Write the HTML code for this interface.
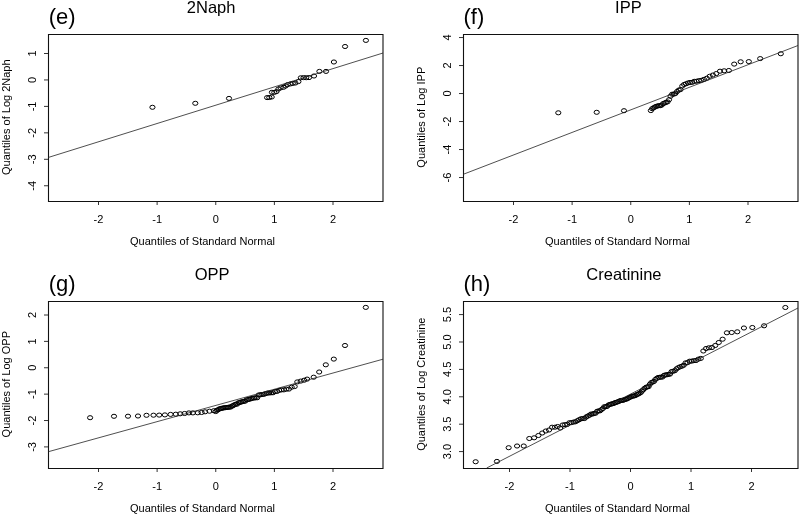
<!DOCTYPE html><html><head><meta charset="utf-8"><style>html,body{margin:0;padding:0;background:#fff;overflow:hidden}svg{display:block;filter:grayscale(1)}</style></head><body>
<svg width="800" height="514" viewBox="0 0 800 514" font-family="'Liberation Sans', sans-serif">
<rect width="800" height="514" fill="#fff"/>
<path d="M48.5 34.5H383.0V201.5H48.5Z" fill="none" stroke="#111" stroke-width="1.1"/>
<line x1="98.50" y1="202" x2="98.50" y2="205" stroke="#333" stroke-width="1"/>
<text x="98.50" y="222.8" font-size="11" text-anchor="middle" fill="#000">-2</text>
<line x1="157.12" y1="202" x2="157.12" y2="205" stroke="#333" stroke-width="1"/>
<text x="157.12" y="222.8" font-size="11" text-anchor="middle" fill="#000">-1</text>
<line x1="215.75" y1="202" x2="215.75" y2="205" stroke="#333" stroke-width="1"/>
<text x="215.75" y="222.8" font-size="11" text-anchor="middle" fill="#000">0</text>
<line x1="274.38" y1="202" x2="274.38" y2="205" stroke="#333" stroke-width="1"/>
<text x="274.38" y="222.8" font-size="11" text-anchor="middle" fill="#000">1</text>
<line x1="333.00" y1="202" x2="333.00" y2="205" stroke="#333" stroke-width="1"/>
<text x="333.00" y="222.8" font-size="11" text-anchor="middle" fill="#000">2</text>
<line x1="48" y1="53.50" x2="44" y2="53.50" stroke="#333" stroke-width="1"/>
<text transform="translate(36,53.50) rotate(-90)" font-size="11" text-anchor="middle" fill="#000">1</text>
<line x1="48" y1="79.95" x2="44" y2="79.95" stroke="#333" stroke-width="1"/>
<text transform="translate(36,79.95) rotate(-90)" font-size="11" text-anchor="middle" fill="#000">0</text>
<line x1="48" y1="106.40" x2="44" y2="106.40" stroke="#333" stroke-width="1"/>
<text transform="translate(36,106.40) rotate(-90)" font-size="11" text-anchor="middle" fill="#000">-1</text>
<line x1="48" y1="132.85" x2="44" y2="132.85" stroke="#333" stroke-width="1"/>
<text transform="translate(36,132.85) rotate(-90)" font-size="11" text-anchor="middle" fill="#000">-2</text>
<line x1="48" y1="159.30" x2="44" y2="159.30" stroke="#333" stroke-width="1"/>
<text transform="translate(36,159.30) rotate(-90)" font-size="11" text-anchor="middle" fill="#000">-3</text>
<line x1="48" y1="185.75" x2="44" y2="185.75" stroke="#333" stroke-width="1"/>
<text transform="translate(36,185.75) rotate(-90)" font-size="11" text-anchor="middle" fill="#000">-4</text>
<text x="202.5" y="245.2" font-size="11" text-anchor="middle" fill="#000">Quantiles of Standard Normal</text>
<text transform="translate(9.8,117.2) rotate(-90)" font-size="11" text-anchor="middle" fill="#000">Quantiles of Log 2Naph</text>
<path d="M463.5 34.5H798.0V201.5H463.5Z" fill="none" stroke="#111" stroke-width="1.1"/>
<line x1="513.50" y1="202" x2="513.50" y2="205" stroke="#333" stroke-width="1"/>
<text x="513.50" y="222.8" font-size="11" text-anchor="middle" fill="#000">-2</text>
<line x1="572.12" y1="202" x2="572.12" y2="205" stroke="#333" stroke-width="1"/>
<text x="572.12" y="222.8" font-size="11" text-anchor="middle" fill="#000">-1</text>
<line x1="630.75" y1="202" x2="630.75" y2="205" stroke="#333" stroke-width="1"/>
<text x="630.75" y="222.8" font-size="11" text-anchor="middle" fill="#000">0</text>
<line x1="689.38" y1="202" x2="689.38" y2="205" stroke="#333" stroke-width="1"/>
<text x="689.38" y="222.8" font-size="11" text-anchor="middle" fill="#000">1</text>
<line x1="748.00" y1="202" x2="748.00" y2="205" stroke="#333" stroke-width="1"/>
<text x="748.00" y="222.8" font-size="11" text-anchor="middle" fill="#000">2</text>
<line x1="463" y1="37.54" x2="459" y2="37.54" stroke="#333" stroke-width="1"/>
<text transform="translate(451,37.54) rotate(-90)" font-size="11" text-anchor="middle" fill="#000">4</text>
<line x1="463" y1="65.54" x2="459" y2="65.54" stroke="#333" stroke-width="1"/>
<text transform="translate(451,65.54) rotate(-90)" font-size="11" text-anchor="middle" fill="#000">2</text>
<line x1="463" y1="93.54" x2="459" y2="93.54" stroke="#333" stroke-width="1"/>
<text transform="translate(451,93.54) rotate(-90)" font-size="11" text-anchor="middle" fill="#000">0</text>
<line x1="463" y1="121.54" x2="459" y2="121.54" stroke="#333" stroke-width="1"/>
<text transform="translate(451,121.54) rotate(-90)" font-size="11" text-anchor="middle" fill="#000">-2</text>
<line x1="463" y1="149.54" x2="459" y2="149.54" stroke="#333" stroke-width="1"/>
<text transform="translate(451,149.54) rotate(-90)" font-size="11" text-anchor="middle" fill="#000">-4</text>
<line x1="463" y1="177.54" x2="459" y2="177.54" stroke="#333" stroke-width="1"/>
<text transform="translate(451,177.54) rotate(-90)" font-size="11" text-anchor="middle" fill="#000">-6</text>
<text x="617.5" y="245.2" font-size="11" text-anchor="middle" fill="#000">Quantiles of Standard Normal</text>
<text transform="translate(424.8,117.2) rotate(-90)" font-size="11" text-anchor="middle" fill="#000">Quantiles of Log IPP</text>
<path d="M48.5 301.5H383.0V468.5H48.5Z" fill="none" stroke="#111" stroke-width="1.1"/>
<line x1="98.50" y1="469" x2="98.50" y2="472" stroke="#333" stroke-width="1"/>
<text x="98.50" y="489.8" font-size="11" text-anchor="middle" fill="#000">-2</text>
<line x1="157.12" y1="469" x2="157.12" y2="472" stroke="#333" stroke-width="1"/>
<text x="157.12" y="489.8" font-size="11" text-anchor="middle" fill="#000">-1</text>
<line x1="215.75" y1="469" x2="215.75" y2="472" stroke="#333" stroke-width="1"/>
<text x="215.75" y="489.8" font-size="11" text-anchor="middle" fill="#000">0</text>
<line x1="274.38" y1="469" x2="274.38" y2="472" stroke="#333" stroke-width="1"/>
<text x="274.38" y="489.8" font-size="11" text-anchor="middle" fill="#000">1</text>
<line x1="333.00" y1="469" x2="333.00" y2="472" stroke="#333" stroke-width="1"/>
<text x="333.00" y="489.8" font-size="11" text-anchor="middle" fill="#000">2</text>
<line x1="48" y1="315.00" x2="44" y2="315.00" stroke="#333" stroke-width="1"/>
<text transform="translate(36,315.00) rotate(-90)" font-size="11" text-anchor="middle" fill="#000">2</text>
<line x1="48" y1="341.38" x2="44" y2="341.38" stroke="#333" stroke-width="1"/>
<text transform="translate(36,341.38) rotate(-90)" font-size="11" text-anchor="middle" fill="#000">1</text>
<line x1="48" y1="367.76" x2="44" y2="367.76" stroke="#333" stroke-width="1"/>
<text transform="translate(36,367.76) rotate(-90)" font-size="11" text-anchor="middle" fill="#000">0</text>
<line x1="48" y1="394.14" x2="44" y2="394.14" stroke="#333" stroke-width="1"/>
<text transform="translate(36,394.14) rotate(-90)" font-size="11" text-anchor="middle" fill="#000">-1</text>
<line x1="48" y1="420.52" x2="44" y2="420.52" stroke="#333" stroke-width="1"/>
<text transform="translate(36,420.52) rotate(-90)" font-size="11" text-anchor="middle" fill="#000">-2</text>
<line x1="48" y1="446.90" x2="44" y2="446.90" stroke="#333" stroke-width="1"/>
<text transform="translate(36,446.90) rotate(-90)" font-size="11" text-anchor="middle" fill="#000">-3</text>
<text x="202.5" y="512.2" font-size="11" text-anchor="middle" fill="#000">Quantiles of Standard Normal</text>
<text transform="translate(9.8,384.2) rotate(-90)" font-size="11" text-anchor="middle" fill="#000">Quantiles of Log OPP</text>
<path d="M463.5 301.5H798.0V468.5H463.5Z" fill="none" stroke="#111" stroke-width="1.1"/>
<line x1="509.50" y1="469" x2="509.50" y2="472" stroke="#333" stroke-width="1"/>
<text x="509.50" y="489.8" font-size="11" text-anchor="middle" fill="#000">-2</text>
<line x1="570.00" y1="469" x2="570.00" y2="472" stroke="#333" stroke-width="1"/>
<text x="570.00" y="489.8" font-size="11" text-anchor="middle" fill="#000">-1</text>
<line x1="630.50" y1="469" x2="630.50" y2="472" stroke="#333" stroke-width="1"/>
<text x="630.50" y="489.8" font-size="11" text-anchor="middle" fill="#000">0</text>
<line x1="691.00" y1="469" x2="691.00" y2="472" stroke="#333" stroke-width="1"/>
<text x="691.00" y="489.8" font-size="11" text-anchor="middle" fill="#000">1</text>
<line x1="751.50" y1="469" x2="751.50" y2="472" stroke="#333" stroke-width="1"/>
<text x="751.50" y="489.8" font-size="11" text-anchor="middle" fill="#000">2</text>
<line x1="463" y1="451.59" x2="459" y2="451.59" stroke="#333" stroke-width="1"/>
<text transform="translate(451,451.59) rotate(-90)" font-size="11" text-anchor="middle" fill="#000">3.0</text>
<line x1="463" y1="424.19" x2="459" y2="424.19" stroke="#333" stroke-width="1"/>
<text transform="translate(451,424.19) rotate(-90)" font-size="11" text-anchor="middle" fill="#000">3.5</text>
<line x1="463" y1="396.79" x2="459" y2="396.79" stroke="#333" stroke-width="1"/>
<text transform="translate(451,396.79) rotate(-90)" font-size="11" text-anchor="middle" fill="#000">4.0</text>
<line x1="463" y1="369.39" x2="459" y2="369.39" stroke="#333" stroke-width="1"/>
<text transform="translate(451,369.39) rotate(-90)" font-size="11" text-anchor="middle" fill="#000">4.5</text>
<line x1="463" y1="341.99" x2="459" y2="341.99" stroke="#333" stroke-width="1"/>
<text transform="translate(451,341.99) rotate(-90)" font-size="11" text-anchor="middle" fill="#000">5.0</text>
<line x1="463" y1="314.59" x2="459" y2="314.59" stroke="#333" stroke-width="1"/>
<text transform="translate(451,314.59) rotate(-90)" font-size="11" text-anchor="middle" fill="#000">5.5</text>
<text x="617.5" y="512.2" font-size="11" text-anchor="middle" fill="#000">Quantiles of Standard Normal</text>
<text transform="translate(424.8,384.2) rotate(-90)" font-size="11" text-anchor="middle" fill="#000">Quantiles of Log Creatinine</text>
<text x="186.8" y="12.8" font-size="16.5">2Naph</text>
<text x="615.1" y="12.6" font-size="16.5">IPP</text>
<text x="194.75" y="279.8" font-size="16.5">OPP</text>
<text x="586.3" y="279.6" font-size="16.5">Creatinine</text>
<text x="48.7" y="24.2" font-size="22">(e)</text>
<text x="463.5" y="24.2" font-size="22">(f)</text>
<text x="48.7" y="291.2" font-size="22">(g)</text>
<text x="463.5" y="291.2" font-size="22">(h)</text>
<path d="M149.85 107.30a2.6 2.05 0 1 0 5.2 0a2.6 2.05 0 1 0 -5.2 0M192.70 103.30a2.6 2.05 0 1 0 5.2 0a2.6 2.05 0 1 0 -5.2 0M226.40 98.40a2.6 2.05 0 1 0 5.2 0a2.6 2.05 0 1 0 -5.2 0M264.50 97.60a2.6 2.05 0 1 0 5.2 0a2.6 2.05 0 1 0 -5.2 0M266.70 97.50a2.6 2.05 0 1 0 5.2 0a2.6 2.05 0 1 0 -5.2 0M269.10 97.00a2.6 2.05 0 1 0 5.2 0a2.6 2.05 0 1 0 -5.2 0M269.30 92.30a2.6 2.05 0 1 0 5.2 0a2.6 2.05 0 1 0 -5.2 0M271.70 92.40a2.6 2.05 0 1 0 5.2 0a2.6 2.05 0 1 0 -5.2 0M273.90 91.60a2.6 2.05 0 1 0 5.2 0a2.6 2.05 0 1 0 -5.2 0M275.80 89.00a2.6 2.05 0 1 0 5.2 0a2.6 2.05 0 1 0 -5.2 0M278.00 87.90a2.6 2.05 0 1 0 5.2 0a2.6 2.05 0 1 0 -5.2 0M280.90 87.30a2.6 2.05 0 1 0 5.2 0a2.6 2.05 0 1 0 -5.2 0M283.10 86.00a2.6 2.05 0 1 0 5.2 0a2.6 2.05 0 1 0 -5.2 0M285.10 84.60a2.6 2.05 0 1 0 5.2 0a2.6 2.05 0 1 0 -5.2 0M287.90 83.90a2.6 2.05 0 1 0 5.2 0a2.6 2.05 0 1 0 -5.2 0M290.20 83.40a2.6 2.05 0 1 0 5.2 0a2.6 2.05 0 1 0 -5.2 0M292.80 83.00a2.6 2.05 0 1 0 5.2 0a2.6 2.05 0 1 0 -5.2 0M295.80 81.60a2.6 2.05 0 1 0 5.2 0a2.6 2.05 0 1 0 -5.2 0M298.20 77.80a2.6 2.05 0 1 0 5.2 0a2.6 2.05 0 1 0 -5.2 0M301.00 77.60a2.6 2.05 0 1 0 5.2 0a2.6 2.05 0 1 0 -5.2 0M303.60 77.70a2.6 2.05 0 1 0 5.2 0a2.6 2.05 0 1 0 -5.2 0M306.40 77.60a2.6 2.05 0 1 0 5.2 0a2.6 2.05 0 1 0 -5.2 0M311.40 76.00a2.6 2.05 0 1 0 5.2 0a2.6 2.05 0 1 0 -5.2 0M316.80 71.40a2.6 2.05 0 1 0 5.2 0a2.6 2.05 0 1 0 -5.2 0M323.40 71.40a2.6 2.05 0 1 0 5.2 0a2.6 2.05 0 1 0 -5.2 0M331.30 62.00a2.6 2.05 0 1 0 5.2 0a2.6 2.05 0 1 0 -5.2 0M342.46 46.50a2.6 2.05 0 1 0 5.2 0a2.6 2.05 0 1 0 -5.2 0M363.30 40.40a2.6 2.05 0 1 0 5.2 0a2.6 2.05 0 1 0 -5.2 0" fill="none" stroke="#000" stroke-width="1.0"/>
<path d="M555.70 112.80a2.6 2.05 0 1 0 5.2 0a2.6 2.05 0 1 0 -5.2 0M594.10 112.30a2.6 2.05 0 1 0 5.2 0a2.6 2.05 0 1 0 -5.2 0M621.40 110.70a2.6 2.05 0 1 0 5.2 0a2.6 2.05 0 1 0 -5.2 0M648.25 110.58a2.6 2.05 0 1 0 5.2 0a2.6 2.05 0 1 0 -5.2 0M649.57 108.65a2.6 2.05 0 1 0 5.2 0a2.6 2.05 0 1 0 -5.2 0M650.89 107.91a2.6 2.05 0 1 0 5.2 0a2.6 2.05 0 1 0 -5.2 0M652.22 107.05a2.6 2.05 0 1 0 5.2 0a2.6 2.05 0 1 0 -5.2 0M653.57 106.35a2.6 2.05 0 1 0 5.2 0a2.6 2.05 0 1 0 -5.2 0M654.93 105.99a2.6 2.05 0 1 0 5.2 0a2.6 2.05 0 1 0 -5.2 0M656.31 105.69a2.6 2.05 0 1 0 5.2 0a2.6 2.05 0 1 0 -5.2 0M657.70 105.66a2.6 2.05 0 1 0 5.2 0a2.6 2.05 0 1 0 -5.2 0M659.11 105.10a2.6 2.05 0 1 0 5.2 0a2.6 2.05 0 1 0 -5.2 0M660.53 103.58a2.6 2.05 0 1 0 5.2 0a2.6 2.05 0 1 0 -5.2 0M661.98 103.05a2.6 2.05 0 1 0 5.2 0a2.6 2.05 0 1 0 -5.2 0M663.44 102.32a2.6 2.05 0 1 0 5.2 0a2.6 2.05 0 1 0 -5.2 0M664.93 101.87a2.6 2.05 0 1 0 5.2 0a2.6 2.05 0 1 0 -5.2 0M666.44 99.71a2.6 2.05 0 1 0 5.2 0a2.6 2.05 0 1 0 -5.2 0M667.98 96.20a2.6 2.05 0 1 0 5.2 0a2.6 2.05 0 1 0 -5.2 0M669.55 94.22a2.6 2.05 0 1 0 5.2 0a2.6 2.05 0 1 0 -5.2 0M671.15 94.16a2.6 2.05 0 1 0 5.2 0a2.6 2.05 0 1 0 -5.2 0M672.78 93.51a2.6 2.05 0 1 0 5.2 0a2.6 2.05 0 1 0 -5.2 0M674.44 91.52a2.6 2.05 0 1 0 5.2 0a2.6 2.05 0 1 0 -5.2 0M676.14 90.07a2.6 2.05 0 1 0 5.2 0a2.6 2.05 0 1 0 -5.2 0M677.89 89.58a2.6 2.05 0 1 0 5.2 0a2.6 2.05 0 1 0 -5.2 0M679.68 85.99a2.6 2.05 0 1 0 5.2 0a2.6 2.05 0 1 0 -5.2 0M681.51 84.47a2.6 2.05 0 1 0 5.2 0a2.6 2.05 0 1 0 -5.2 0M683.41 83.79a2.6 2.05 0 1 0 5.2 0a2.6 2.05 0 1 0 -5.2 0M685.36 82.96a2.6 2.05 0 1 0 5.2 0a2.6 2.05 0 1 0 -5.2 0M687.38 82.45a2.6 2.05 0 1 0 5.2 0a2.6 2.05 0 1 0 -5.2 0M689.47 82.35a2.6 2.05 0 1 0 5.2 0a2.6 2.05 0 1 0 -5.2 0M691.64 81.32a2.6 2.05 0 1 0 5.2 0a2.6 2.05 0 1 0 -5.2 0M693.90 81.25a2.6 2.05 0 1 0 5.2 0a2.6 2.05 0 1 0 -5.2 0M696.27 80.64a2.6 2.05 0 1 0 5.2 0a2.6 2.05 0 1 0 -5.2 0M698.75 80.30a2.6 2.05 0 1 0 5.2 0a2.6 2.05 0 1 0 -5.2 0M701.36 79.40a2.6 2.05 0 1 0 5.2 0a2.6 2.05 0 1 0 -5.2 0M704.13 78.22a2.6 2.05 0 1 0 5.2 0a2.6 2.05 0 1 0 -5.2 0M707.08 76.27a2.6 2.05 0 1 0 5.2 0a2.6 2.05 0 1 0 -5.2 0M710.24 75.05a2.6 2.05 0 1 0 5.2 0a2.6 2.05 0 1 0 -5.2 0M713.66 73.56a2.6 2.05 0 1 0 5.2 0a2.6 2.05 0 1 0 -5.2 0M717.41 71.20a2.6 2.05 0 1 0 5.2 0a2.6 2.05 0 1 0 -5.2 0M721.55 70.80a2.6 2.05 0 1 0 5.2 0a2.6 2.05 0 1 0 -5.2 0M726.23 70.50a2.6 2.05 0 1 0 5.2 0a2.6 2.05 0 1 0 -5.2 0M731.62 64.10a2.6 2.05 0 1 0 5.2 0a2.6 2.05 0 1 0 -5.2 0M738.07 61.80a2.6 2.05 0 1 0 5.2 0a2.6 2.05 0 1 0 -5.2 0M746.21 61.60a2.6 2.05 0 1 0 5.2 0a2.6 2.05 0 1 0 -5.2 0M757.59 58.60a2.6 2.05 0 1 0 5.2 0a2.6 2.05 0 1 0 -5.2 0M778.20 53.75a2.6 2.05 0 1 0 5.2 0a2.6 2.05 0 1 0 -5.2 0" fill="none" stroke="#000" stroke-width="1.0"/>
<path d="M87.50 417.70a2.6 2.05 0 1 0 5.2 0a2.6 2.05 0 1 0 -5.2 0M111.40 416.30a2.6 2.05 0 1 0 5.2 0a2.6 2.05 0 1 0 -5.2 0M125.40 416.20a2.6 2.05 0 1 0 5.2 0a2.6 2.05 0 1 0 -5.2 0M135.40 416.00a2.6 2.05 0 1 0 5.2 0a2.6 2.05 0 1 0 -5.2 0M143.90 415.30a2.6 2.05 0 1 0 5.2 0a2.6 2.05 0 1 0 -5.2 0M150.90 415.20a2.6 2.05 0 1 0 5.2 0a2.6 2.05 0 1 0 -5.2 0M156.60 415.10a2.6 2.05 0 1 0 5.2 0a2.6 2.05 0 1 0 -5.2 0M162.30 414.90a2.6 2.05 0 1 0 5.2 0a2.6 2.05 0 1 0 -5.2 0M168.00 414.40a2.6 2.05 0 1 0 5.2 0a2.6 2.05 0 1 0 -5.2 0M173.20 414.20a2.6 2.05 0 1 0 5.2 0a2.6 2.05 0 1 0 -5.2 0M177.60 413.80a2.6 2.05 0 1 0 5.2 0a2.6 2.05 0 1 0 -5.2 0M182.00 413.50a2.6 2.05 0 1 0 5.2 0a2.6 2.05 0 1 0 -5.2 0M186.30 412.90a2.6 2.05 0 1 0 5.2 0a2.6 2.05 0 1 0 -5.2 0M190.30 412.90a2.6 2.05 0 1 0 5.2 0a2.6 2.05 0 1 0 -5.2 0M195.10 412.80a2.6 2.05 0 1 0 5.2 0a2.6 2.05 0 1 0 -5.2 0M199.00 412.50a2.6 2.05 0 1 0 5.2 0a2.6 2.05 0 1 0 -5.2 0M202.50 411.80a2.6 2.05 0 1 0 5.2 0a2.6 2.05 0 1 0 -5.2 0M206.90 411.20a2.6 2.05 0 1 0 5.2 0a2.6 2.05 0 1 0 -5.2 0M211.30 410.70a2.6 2.05 0 1 0 5.2 0a2.6 2.05 0 1 0 -5.2 0M213.15 411.57a2.6 2.05 0 1 0 5.2 0a2.6 2.05 0 1 0 -5.2 0M214.38 410.23a2.6 2.05 0 1 0 5.2 0a2.6 2.05 0 1 0 -5.2 0M215.62 409.70a2.6 2.05 0 1 0 5.2 0a2.6 2.05 0 1 0 -5.2 0M216.85 408.86a2.6 2.05 0 1 0 5.2 0a2.6 2.05 0 1 0 -5.2 0M218.08 408.49a2.6 2.05 0 1 0 5.2 0a2.6 2.05 0 1 0 -5.2 0M219.32 408.39a2.6 2.05 0 1 0 5.2 0a2.6 2.05 0 1 0 -5.2 0M220.56 407.87a2.6 2.05 0 1 0 5.2 0a2.6 2.05 0 1 0 -5.2 0M221.81 407.78a2.6 2.05 0 1 0 5.2 0a2.6 2.05 0 1 0 -5.2 0M223.06 407.65a2.6 2.05 0 1 0 5.2 0a2.6 2.05 0 1 0 -5.2 0M224.31 407.47a2.6 2.05 0 1 0 5.2 0a2.6 2.05 0 1 0 -5.2 0M225.57 407.30a2.6 2.05 0 1 0 5.2 0a2.6 2.05 0 1 0 -5.2 0M226.83 407.08a2.6 2.05 0 1 0 5.2 0a2.6 2.05 0 1 0 -5.2 0M228.10 407.07a2.6 2.05 0 1 0 5.2 0a2.6 2.05 0 1 0 -5.2 0M229.37 406.06a2.6 2.05 0 1 0 5.2 0a2.6 2.05 0 1 0 -5.2 0M230.66 405.53a2.6 2.05 0 1 0 5.2 0a2.6 2.05 0 1 0 -5.2 0M231.95 404.73a2.6 2.05 0 1 0 5.2 0a2.6 2.05 0 1 0 -5.2 0M233.25 404.15a2.6 2.05 0 1 0 5.2 0a2.6 2.05 0 1 0 -5.2 0M234.57 404.09a2.6 2.05 0 1 0 5.2 0a2.6 2.05 0 1 0 -5.2 0M235.89 402.71a2.6 2.05 0 1 0 5.2 0a2.6 2.05 0 1 0 -5.2 0M237.22 402.56a2.6 2.05 0 1 0 5.2 0a2.6 2.05 0 1 0 -5.2 0M238.57 401.90a2.6 2.05 0 1 0 5.2 0a2.6 2.05 0 1 0 -5.2 0M239.93 401.67a2.6 2.05 0 1 0 5.2 0a2.6 2.05 0 1 0 -5.2 0M241.31 401.35a2.6 2.05 0 1 0 5.2 0a2.6 2.05 0 1 0 -5.2 0M242.70 401.08a2.6 2.05 0 1 0 5.2 0a2.6 2.05 0 1 0 -5.2 0M244.11 399.76a2.6 2.05 0 1 0 5.2 0a2.6 2.05 0 1 0 -5.2 0M245.53 399.53a2.6 2.05 0 1 0 5.2 0a2.6 2.05 0 1 0 -5.2 0M246.98 399.24a2.6 2.05 0 1 0 5.2 0a2.6 2.05 0 1 0 -5.2 0M248.44 398.68a2.6 2.05 0 1 0 5.2 0a2.6 2.05 0 1 0 -5.2 0M249.93 398.25a2.6 2.05 0 1 0 5.2 0a2.6 2.05 0 1 0 -5.2 0M251.44 398.02a2.6 2.05 0 1 0 5.2 0a2.6 2.05 0 1 0 -5.2 0M252.98 397.78a2.6 2.05 0 1 0 5.2 0a2.6 2.05 0 1 0 -5.2 0M254.55 397.78a2.6 2.05 0 1 0 5.2 0a2.6 2.05 0 1 0 -5.2 0M256.15 394.96a2.6 2.05 0 1 0 5.2 0a2.6 2.05 0 1 0 -5.2 0M257.78 394.83a2.6 2.05 0 1 0 5.2 0a2.6 2.05 0 1 0 -5.2 0M259.44 394.41a2.6 2.05 0 1 0 5.2 0a2.6 2.05 0 1 0 -5.2 0M261.14 394.39a2.6 2.05 0 1 0 5.2 0a2.6 2.05 0 1 0 -5.2 0M262.89 393.64a2.6 2.05 0 1 0 5.2 0a2.6 2.05 0 1 0 -5.2 0M264.68 393.13a2.6 2.05 0 1 0 5.2 0a2.6 2.05 0 1 0 -5.2 0M266.51 392.99a2.6 2.05 0 1 0 5.2 0a2.6 2.05 0 1 0 -5.2 0M268.41 392.82a2.6 2.05 0 1 0 5.2 0a2.6 2.05 0 1 0 -5.2 0M270.36 392.79a2.6 2.05 0 1 0 5.2 0a2.6 2.05 0 1 0 -5.2 0M272.38 391.52a2.6 2.05 0 1 0 5.2 0a2.6 2.05 0 1 0 -5.2 0M274.47 391.41a2.6 2.05 0 1 0 5.2 0a2.6 2.05 0 1 0 -5.2 0M276.64 390.32a2.6 2.05 0 1 0 5.2 0a2.6 2.05 0 1 0 -5.2 0M278.90 389.89a2.6 2.05 0 1 0 5.2 0a2.6 2.05 0 1 0 -5.2 0M281.27 389.86a2.6 2.05 0 1 0 5.2 0a2.6 2.05 0 1 0 -5.2 0M283.75 389.17a2.6 2.05 0 1 0 5.2 0a2.6 2.05 0 1 0 -5.2 0M286.36 389.08a2.6 2.05 0 1 0 5.2 0a2.6 2.05 0 1 0 -5.2 0M289.13 387.19a2.6 2.05 0 1 0 5.2 0a2.6 2.05 0 1 0 -5.2 0M292.08 386.55a2.6 2.05 0 1 0 5.2 0a2.6 2.05 0 1 0 -5.2 0M294.70 381.90a2.6 2.05 0 1 0 5.2 0a2.6 2.05 0 1 0 -5.2 0M298.10 381.10a2.6 2.05 0 1 0 5.2 0a2.6 2.05 0 1 0 -5.2 0M301.50 380.20a2.6 2.05 0 1 0 5.2 0a2.6 2.05 0 1 0 -5.2 0M304.50 379.10a2.6 2.05 0 1 0 5.2 0a2.6 2.05 0 1 0 -5.2 0M311.10 377.20a2.6 2.05 0 1 0 5.2 0a2.6 2.05 0 1 0 -5.2 0M316.60 372.00a2.6 2.05 0 1 0 5.2 0a2.6 2.05 0 1 0 -5.2 0M323.20 364.80a2.6 2.05 0 1 0 5.2 0a2.6 2.05 0 1 0 -5.2 0M331.20 359.10a2.6 2.05 0 1 0 5.2 0a2.6 2.05 0 1 0 -5.2 0M342.40 345.50a2.6 2.05 0 1 0 5.2 0a2.6 2.05 0 1 0 -5.2 0M363.20 307.40a2.6 2.05 0 1 0 5.2 0a2.6 2.05 0 1 0 -5.2 0" fill="none" stroke="#000" stroke-width="1.0"/>
<path d="M473.05 461.75a2.6 2.05 0 1 0 5.2 0a2.6 2.05 0 1 0 -5.2 0M494.32 461.40a2.6 2.05 0 1 0 5.2 0a2.6 2.05 0 1 0 -5.2 0M506.06 447.70a2.6 2.05 0 1 0 5.2 0a2.6 2.05 0 1 0 -5.2 0M514.46 446.00a2.6 2.05 0 1 0 5.2 0a2.6 2.05 0 1 0 -5.2 0M521.12 446.00a2.6 2.05 0 1 0 5.2 0a2.6 2.05 0 1 0 -5.2 0M526.69 438.50a2.6 2.05 0 1 0 5.2 0a2.6 2.05 0 1 0 -5.2 0M531.51 437.80a2.6 2.05 0 1 0 5.2 0a2.6 2.05 0 1 0 -5.2 0M535.79 435.50a2.6 2.05 0 1 0 5.2 0a2.6 2.05 0 1 0 -5.2 0M539.65 433.00a2.6 2.05 0 1 0 5.2 0a2.6 2.05 0 1 0 -5.2 0M543.18 431.00a2.6 2.05 0 1 0 5.2 0a2.6 2.05 0 1 0 -5.2 0M546.45 430.00a2.6 2.05 0 1 0 5.2 0a2.6 2.05 0 1 0 -5.2 0M549.49 427.20a2.6 2.05 0 1 0 5.2 0a2.6 2.05 0 1 0 -5.2 0M552.35 427.20a2.6 2.05 0 1 0 5.2 0a2.6 2.05 0 1 0 -5.2 0M555.05 426.50a2.6 2.05 0 1 0 5.2 0a2.6 2.05 0 1 0 -5.2 0M700.75 351.00a2.6 2.05 0 1 0 5.2 0a2.6 2.05 0 1 0 -5.2 0M703.45 348.50a2.6 2.05 0 1 0 5.2 0a2.6 2.05 0 1 0 -5.2 0M706.31 347.80a2.6 2.05 0 1 0 5.2 0a2.6 2.05 0 1 0 -5.2 0M709.35 347.50a2.6 2.05 0 1 0 5.2 0a2.6 2.05 0 1 0 -5.2 0M712.62 345.50a2.6 2.05 0 1 0 5.2 0a2.6 2.05 0 1 0 -5.2 0M716.15 342.50a2.6 2.05 0 1 0 5.2 0a2.6 2.05 0 1 0 -5.2 0M720.01 339.20a2.6 2.05 0 1 0 5.2 0a2.6 2.05 0 1 0 -5.2 0M724.29 332.80a2.6 2.05 0 1 0 5.2 0a2.6 2.05 0 1 0 -5.2 0M729.11 332.50a2.6 2.05 0 1 0 5.2 0a2.6 2.05 0 1 0 -5.2 0M734.68 331.80a2.6 2.05 0 1 0 5.2 0a2.6 2.05 0 1 0 -5.2 0M741.34 328.00a2.6 2.05 0 1 0 5.2 0a2.6 2.05 0 1 0 -5.2 0M749.74 327.50a2.6 2.05 0 1 0 5.2 0a2.6 2.05 0 1 0 -5.2 0M761.48 325.80a2.6 2.05 0 1 0 5.2 0a2.6 2.05 0 1 0 -5.2 0M782.75 307.50a2.6 2.05 0 1 0 5.2 0a2.6 2.05 0 1 0 -5.2 0M557.61 428.02a2.6 2.05 0 1 0 5.2 0a2.6 2.05 0 1 0 -5.2 0M560.05 424.98a2.6 2.05 0 1 0 5.2 0a2.6 2.05 0 1 0 -5.2 0M562.38 424.64a2.6 2.05 0 1 0 5.2 0a2.6 2.05 0 1 0 -5.2 0M564.62 424.39a2.6 2.05 0 1 0 5.2 0a2.6 2.05 0 1 0 -5.2 0M566.78 422.73a2.6 2.05 0 1 0 5.2 0a2.6 2.05 0 1 0 -5.2 0M568.86 422.58a2.6 2.05 0 1 0 5.2 0a2.6 2.05 0 1 0 -5.2 0M570.88 422.09a2.6 2.05 0 1 0 5.2 0a2.6 2.05 0 1 0 -5.2 0M572.83 421.78a2.6 2.05 0 1 0 5.2 0a2.6 2.05 0 1 0 -5.2 0M574.73 420.70a2.6 2.05 0 1 0 5.2 0a2.6 2.05 0 1 0 -5.2 0M576.57 419.69a2.6 2.05 0 1 0 5.2 0a2.6 2.05 0 1 0 -5.2 0M578.37 418.79a2.6 2.05 0 1 0 5.2 0a2.6 2.05 0 1 0 -5.2 0M580.13 418.54a2.6 2.05 0 1 0 5.2 0a2.6 2.05 0 1 0 -5.2 0M581.85 418.53a2.6 2.05 0 1 0 5.2 0a2.6 2.05 0 1 0 -5.2 0M583.53 416.95a2.6 2.05 0 1 0 5.2 0a2.6 2.05 0 1 0 -5.2 0M585.18 416.11a2.6 2.05 0 1 0 5.2 0a2.6 2.05 0 1 0 -5.2 0M586.79 415.26a2.6 2.05 0 1 0 5.2 0a2.6 2.05 0 1 0 -5.2 0M588.38 414.06a2.6 2.05 0 1 0 5.2 0a2.6 2.05 0 1 0 -5.2 0M589.94 414.05a2.6 2.05 0 1 0 5.2 0a2.6 2.05 0 1 0 -5.2 0M591.48 413.44a2.6 2.05 0 1 0 5.2 0a2.6 2.05 0 1 0 -5.2 0M592.99 413.23a2.6 2.05 0 1 0 5.2 0a2.6 2.05 0 1 0 -5.2 0M594.48 411.31a2.6 2.05 0 1 0 5.2 0a2.6 2.05 0 1 0 -5.2 0M595.95 410.93a2.6 2.05 0 1 0 5.2 0a2.6 2.05 0 1 0 -5.2 0M597.41 410.85a2.6 2.05 0 1 0 5.2 0a2.6 2.05 0 1 0 -5.2 0M598.84 409.61a2.6 2.05 0 1 0 5.2 0a2.6 2.05 0 1 0 -5.2 0M600.26 408.52a2.6 2.05 0 1 0 5.2 0a2.6 2.05 0 1 0 -5.2 0M601.67 406.74a2.6 2.05 0 1 0 5.2 0a2.6 2.05 0 1 0 -5.2 0M603.06 406.71a2.6 2.05 0 1 0 5.2 0a2.6 2.05 0 1 0 -5.2 0M604.43 406.42a2.6 2.05 0 1 0 5.2 0a2.6 2.05 0 1 0 -5.2 0M605.80 405.00a2.6 2.05 0 1 0 5.2 0a2.6 2.05 0 1 0 -5.2 0M607.15 404.52a2.6 2.05 0 1 0 5.2 0a2.6 2.05 0 1 0 -5.2 0M608.50 404.11a2.6 2.05 0 1 0 5.2 0a2.6 2.05 0 1 0 -5.2 0M609.83 403.66a2.6 2.05 0 1 0 5.2 0a2.6 2.05 0 1 0 -5.2 0M611.16 403.51a2.6 2.05 0 1 0 5.2 0a2.6 2.05 0 1 0 -5.2 0M612.47 402.56a2.6 2.05 0 1 0 5.2 0a2.6 2.05 0 1 0 -5.2 0M613.78 402.40a2.6 2.05 0 1 0 5.2 0a2.6 2.05 0 1 0 -5.2 0M615.09 401.80a2.6 2.05 0 1 0 5.2 0a2.6 2.05 0 1 0 -5.2 0M616.39 401.37a2.6 2.05 0 1 0 5.2 0a2.6 2.05 0 1 0 -5.2 0M617.68 400.55a2.6 2.05 0 1 0 5.2 0a2.6 2.05 0 1 0 -5.2 0M618.97 400.44a2.6 2.05 0 1 0 5.2 0a2.6 2.05 0 1 0 -5.2 0M620.25 400.36a2.6 2.05 0 1 0 5.2 0a2.6 2.05 0 1 0 -5.2 0M621.53 399.84a2.6 2.05 0 1 0 5.2 0a2.6 2.05 0 1 0 -5.2 0M622.81 399.33a2.6 2.05 0 1 0 5.2 0a2.6 2.05 0 1 0 -5.2 0M624.08 399.07a2.6 2.05 0 1 0 5.2 0a2.6 2.05 0 1 0 -5.2 0M625.36 398.41a2.6 2.05 0 1 0 5.2 0a2.6 2.05 0 1 0 -5.2 0M626.63 397.52a2.6 2.05 0 1 0 5.2 0a2.6 2.05 0 1 0 -5.2 0M627.90 397.10a2.6 2.05 0 1 0 5.2 0a2.6 2.05 0 1 0 -5.2 0M629.17 396.35a2.6 2.05 0 1 0 5.2 0a2.6 2.05 0 1 0 -5.2 0M630.44 396.08a2.6 2.05 0 1 0 5.2 0a2.6 2.05 0 1 0 -5.2 0M631.72 395.87a2.6 2.05 0 1 0 5.2 0a2.6 2.05 0 1 0 -5.2 0M632.99 395.48a2.6 2.05 0 1 0 5.2 0a2.6 2.05 0 1 0 -5.2 0M634.27 394.50a2.6 2.05 0 1 0 5.2 0a2.6 2.05 0 1 0 -5.2 0M635.55 394.09a2.6 2.05 0 1 0 5.2 0a2.6 2.05 0 1 0 -5.2 0M636.83 393.36a2.6 2.05 0 1 0 5.2 0a2.6 2.05 0 1 0 -5.2 0M638.12 392.60a2.6 2.05 0 1 0 5.2 0a2.6 2.05 0 1 0 -5.2 0M639.41 391.05a2.6 2.05 0 1 0 5.2 0a2.6 2.05 0 1 0 -5.2 0M640.71 389.71a2.6 2.05 0 1 0 5.2 0a2.6 2.05 0 1 0 -5.2 0M642.02 388.26a2.6 2.05 0 1 0 5.2 0a2.6 2.05 0 1 0 -5.2 0M643.33 387.41a2.6 2.05 0 1 0 5.2 0a2.6 2.05 0 1 0 -5.2 0M644.64 386.84a2.6 2.05 0 1 0 5.2 0a2.6 2.05 0 1 0 -5.2 0M645.97 386.61a2.6 2.05 0 1 0 5.2 0a2.6 2.05 0 1 0 -5.2 0M647.30 384.21a2.6 2.05 0 1 0 5.2 0a2.6 2.05 0 1 0 -5.2 0M648.65 382.63a2.6 2.05 0 1 0 5.2 0a2.6 2.05 0 1 0 -5.2 0M650.00 382.06a2.6 2.05 0 1 0 5.2 0a2.6 2.05 0 1 0 -5.2 0M651.37 381.47a2.6 2.05 0 1 0 5.2 0a2.6 2.05 0 1 0 -5.2 0M652.74 379.47a2.6 2.05 0 1 0 5.2 0a2.6 2.05 0 1 0 -5.2 0M654.13 378.38a2.6 2.05 0 1 0 5.2 0a2.6 2.05 0 1 0 -5.2 0M655.54 377.49a2.6 2.05 0 1 0 5.2 0a2.6 2.05 0 1 0 -5.2 0M656.96 377.36a2.6 2.05 0 1 0 5.2 0a2.6 2.05 0 1 0 -5.2 0M658.39 377.08a2.6 2.05 0 1 0 5.2 0a2.6 2.05 0 1 0 -5.2 0M659.85 377.04a2.6 2.05 0 1 0 5.2 0a2.6 2.05 0 1 0 -5.2 0M661.32 375.45a2.6 2.05 0 1 0 5.2 0a2.6 2.05 0 1 0 -5.2 0M662.81 374.87a2.6 2.05 0 1 0 5.2 0a2.6 2.05 0 1 0 -5.2 0M664.32 374.80a2.6 2.05 0 1 0 5.2 0a2.6 2.05 0 1 0 -5.2 0M665.86 374.37a2.6 2.05 0 1 0 5.2 0a2.6 2.05 0 1 0 -5.2 0M667.42 374.09a2.6 2.05 0 1 0 5.2 0a2.6 2.05 0 1 0 -5.2 0M669.01 371.52a2.6 2.05 0 1 0 5.2 0a2.6 2.05 0 1 0 -5.2 0M670.62 371.19a2.6 2.05 0 1 0 5.2 0a2.6 2.05 0 1 0 -5.2 0M672.27 370.70a2.6 2.05 0 1 0 5.2 0a2.6 2.05 0 1 0 -5.2 0M673.95 368.81a2.6 2.05 0 1 0 5.2 0a2.6 2.05 0 1 0 -5.2 0M675.67 367.64a2.6 2.05 0 1 0 5.2 0a2.6 2.05 0 1 0 -5.2 0M677.43 366.83a2.6 2.05 0 1 0 5.2 0a2.6 2.05 0 1 0 -5.2 0M679.23 366.23a2.6 2.05 0 1 0 5.2 0a2.6 2.05 0 1 0 -5.2 0M681.07 365.28a2.6 2.05 0 1 0 5.2 0a2.6 2.05 0 1 0 -5.2 0M682.97 362.88a2.6 2.05 0 1 0 5.2 0a2.6 2.05 0 1 0 -5.2 0M684.92 362.59a2.6 2.05 0 1 0 5.2 0a2.6 2.05 0 1 0 -5.2 0M686.94 361.21a2.6 2.05 0 1 0 5.2 0a2.6 2.05 0 1 0 -5.2 0M689.02 361.15a2.6 2.05 0 1 0 5.2 0a2.6 2.05 0 1 0 -5.2 0M691.18 360.64a2.6 2.05 0 1 0 5.2 0a2.6 2.05 0 1 0 -5.2 0M693.42 360.52a2.6 2.05 0 1 0 5.2 0a2.6 2.05 0 1 0 -5.2 0M695.75 359.13a2.6 2.05 0 1 0 5.2 0a2.6 2.05 0 1 0 -5.2 0M698.19 358.42a2.6 2.05 0 1 0 5.2 0a2.6 2.05 0 1 0 -5.2 0" fill="none" stroke="#000" stroke-width="1.0"/>
<line x1="48" y1="157.55" x2="383" y2="53.0" stroke="#222" stroke-width="0.8"/>
<line x1="463" y1="174.4" x2="798" y2="45.5" stroke="#222" stroke-width="0.8"/>
<line x1="48" y1="451.8" x2="383" y2="359.2" stroke="#222" stroke-width="0.8"/>
<line x1="486.7" y1="468.0" x2="798" y2="308.0" stroke="#222" stroke-width="0.8"/>
</svg></body></html>
